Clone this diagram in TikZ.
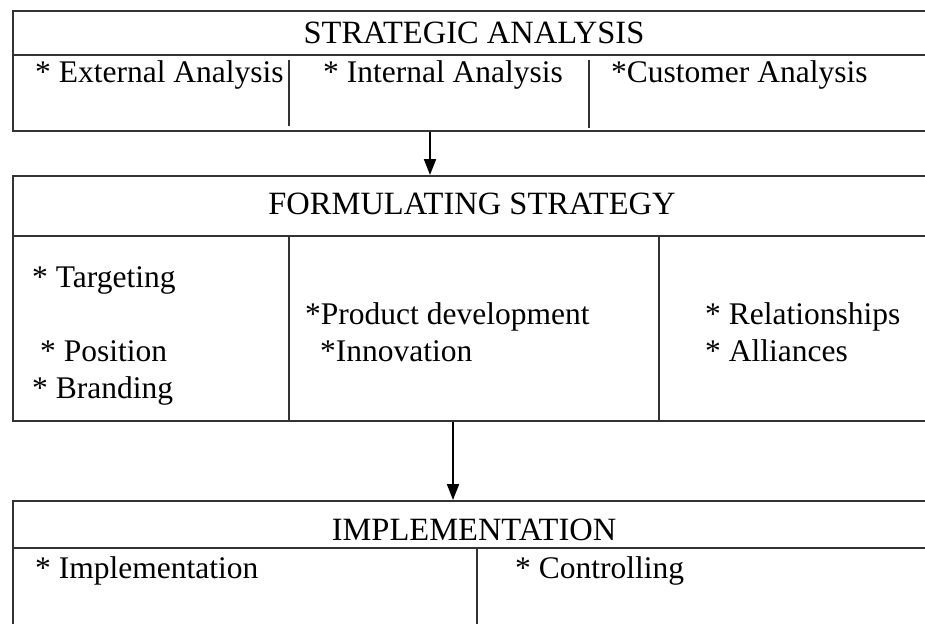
\documentclass[tikz,border=0pt]{standalone}
\usepackage{fontspec}
\setmainfont{Liberation Serif}
\usetikzlibrary{arrows.meta,calc}
\begin{document}
\begin{tikzpicture}[x=1pt,y=-1pt,
  boxline/.style={draw=black!80, line width=1.6pt},
  lbl/.style={anchor=base west, inner sep=0pt, font=\fontsize{31.5}{36}\selectfont},
  ttl/.style={anchor=base, inner sep=0pt, font=\fontsize{32.5}{36}\selectfont},
  conn/.style={line width=2pt, -{Triangle[length=16pt,width=12pt]}}]
\useasboundingbox (0,0) rectangle (925,623);
\clip (0,0) rectangle (925,623);
% boxes
\node[boxline, anchor=north west, minimum width=940pt, minimum height=120pt, inner sep=0pt] (sa) at (12,10) {};
\node[boxline, anchor=north west, minimum width=940pt, minimum height=245pt, inner sep=0pt] (fs) at (12,175) {};
\node[boxline, anchor=north west, minimum width=940pt, minimum height=150pt, inner sep=0pt] (im) at (12,500) {};
% header dividers
\draw[boxline] (12,55) -- (952,55);
\draw[boxline] (12,236) -- (952,236);
\draw[boxline] (12,548) -- (952,548);
% column dividers
\draw[boxline] (289,60) -- (289,126);
\draw[boxline] (589,60) -- (589,128);
\draw[boxline] (289,236) -- (289,420);
\draw[boxline] (659,236) -- (659,420);
\draw[boxline] (477,548) -- (477,630);
% titles
\node[ttl] (t1) at (474,44) {STRATEGIC ANALYSIS};
\node[ttl] (t2) at (472,214) {FORMULATING STRATEGY};
\node[ttl] (t3) at (474,540) {IMPLEMENTATION};
% items
\node[lbl] (ea) at (35,83) {* External Analysis};
\node[lbl] (ia) at (323,83) {* Internal Analysis};
\node[lbl] (ca) at (611,83) {*Customer Analysis};
\node[lbl] (tg) at (32,287) {* Targeting};
\node[lbl] (po) at (40,361) {* Position};
\node[lbl] (br) at (32,398) {* Branding};
\node[lbl] (pd) at (305,324) {*Product development};
\node[lbl] (in) at (320,361) {*Innovation};
\node[lbl] (re) at (705,324) {* Relationships};
\node[lbl] (al) at (705,361) {* Alliances};
\node[lbl] (ip) at (35,578) {* Implementation};
\node[lbl] (co) at (515,578) {* Controlling};
% connectors
\coordinate (x1) at (430,0);
\coordinate (x2) at (453,0);
\draw[conn] (sa.south -| x1) -- (fs.north -| x1);
\draw[conn] (fs.south -| x2) -- (im.north -| x2);
\end{tikzpicture}
\end{document}
